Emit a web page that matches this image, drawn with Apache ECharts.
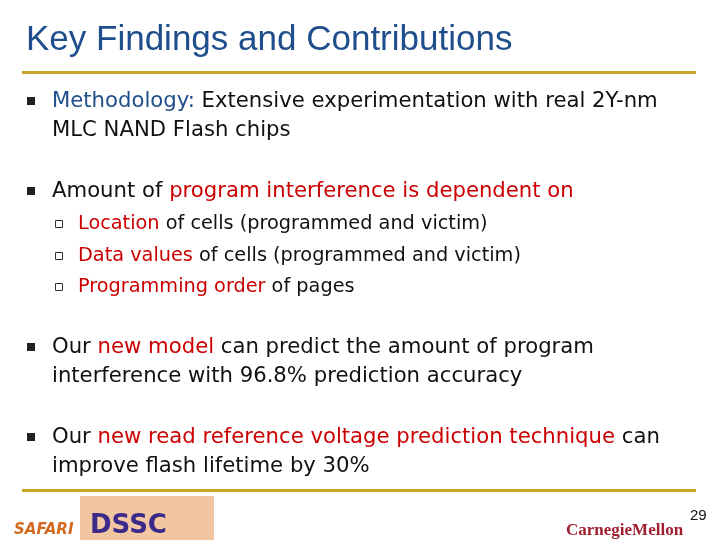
<!DOCTYPE html>
<html>
<head>
<meta charset="utf-8">
<script src="https://cdn.jsdelivr.net/npm/echarts@6/dist/echarts.min.js"></script>
<style>html,body{margin:0;padding:0;background:#fff}#main{width:720px;height:540px}</style>
</head>
<body>
<div id="main"></div>
<script>
// slide text, each line is a list of [text, style] segments
var title = 'Key Findings and Contributions';
var bulletLines = [
    { y: 101, lvl: 1, mark: true, segs: [['Methodology:', 'b'], [' Extensive experimentation with real 2Y-nm', 'k']] },
    { y: 130, lvl: 1, segs: [['MLC NAND Flash chips', 'k']] },
    { y: 191, lvl: 1, mark: true, segs: [['Amount of ', 'k'], ['program interference is dependent on', 'r']] },
    { y: 224, lvl: 2, mark: true, segs: [['Location', 'r'], [' of cells (programmed and victim)', 'k']] },
    { y: 256, lvl: 2, mark: true, segs: [['Data values', 'r'], [' of cells (programmed and victim)', 'k']] },
    { y: 287, lvl: 2, mark: true, segs: [['Programming order', 'r'], [' of pages', 'k']] },
    { y: 347, lvl: 1, mark: true, segs: [['Our ', 'k'], ['new model', 'r'], [' can predict the amount of program', 'k']] },
    { y: 376, lvl: 1, segs: [['interference with 96.8% prediction accuracy', 'k']] },
    { y: 437, lvl: 1, mark: true, segs: [['Our ', 'k'], ['new read reference voltage prediction technique', 'r'], [' can', 'k']] },
    { y: 466, lvl: 1, segs: [['improve flash lifetime by 30%', 'k']] }
];
var pageNum = '29';

var font = '"DejaVu Sans", Verdana, sans-serif';
var gold = '#C9A227';
var elements = [];

elements.push({ type: 'text', x: 26, y: 40, style: { text: title, fill: '#1F4E8C', font: '35px "Liberation Sans", Arial, sans-serif', verticalAlign: 'middle' } });
elements.push({ type: 'rect', shape: { x: 22, y: 71, width: 674, height: 3 }, style: { fill: gold } });
elements.push({ type: 'rect', shape: { x: 22, y: 489, width: 674, height: 3 }, style: { fill: gold } });

bulletLines.forEach(function (ln) {
    var x = ln.lvl === 1 ? 52 : 78;
    var size = ln.lvl === 1 ? 21.2 : 19.3;
    if (ln.mark) {
        if (ln.lvl === 1) {
            elements.push({ type: 'rect', shape: { x: 27, y: ln.y - 4, width: 8, height: 8 }, style: { fill: '#222' } });
        } else {
            elements.push({ type: 'rect', shape: { x: 55.5, y: ln.y - 3.5, width: 7, height: 7 }, style: { fill: '#fff', stroke: '#333', lineWidth: 1 } });
        }
    }
    var txt = ln.segs.map(function (s) { return '{' + s[1] + '|' + s[0] + '}'; }).join('');
    elements.push({
        type: 'text', x: x, y: ln.y,
        style: {
            text: txt, verticalAlign: 'middle', font: size + 'px ' + font,
            rich: {
                k: { fill: '#111', font: size + 'px ' + font },
                r: { fill: '#CC0000', font: size + 'px ' + font },
                b: { fill: '#1F4E8C', font: size + 'px ' + font }
            }
        }
    });
});

// footer logos as text
elements.push({ type: 'text', x: 14, y: 530, style: { text: 'SAFARI', fill: '#D2691E', font: 'italic bold 15px ' + font, verticalAlign: 'middle' } });
elements.push({ type: 'rect', shape: { x: 80, y: 496, width: 134, height: 44 }, style: { fill: '#E8A060', opacity: 0.6 } });
elements.push({ type: 'text', x: 90, y: 526, style: { text: 'DSSC', fill: '#3B2A8A', font: 'bold 26px ' + font, verticalAlign: 'middle' } });
elements.push({ type: 'text', x: 566, y: 531, style: { text: 'CarnegieMellon', fill: '#A02030', font: 'bold 17px "Liberation Serif", serif', verticalAlign: 'middle' } });
elements.push({ type: 'text', x: 690, y: 516, style: { text: pageNum, fill: '#111', font: '15px "Liberation Sans", sans-serif', verticalAlign: 'middle' } });

var chart = echarts.init(document.getElementById('main'));
chart.setOption({ backgroundColor: '#fff', graphic: { elements: elements } });
</script>
</body>
</html>
